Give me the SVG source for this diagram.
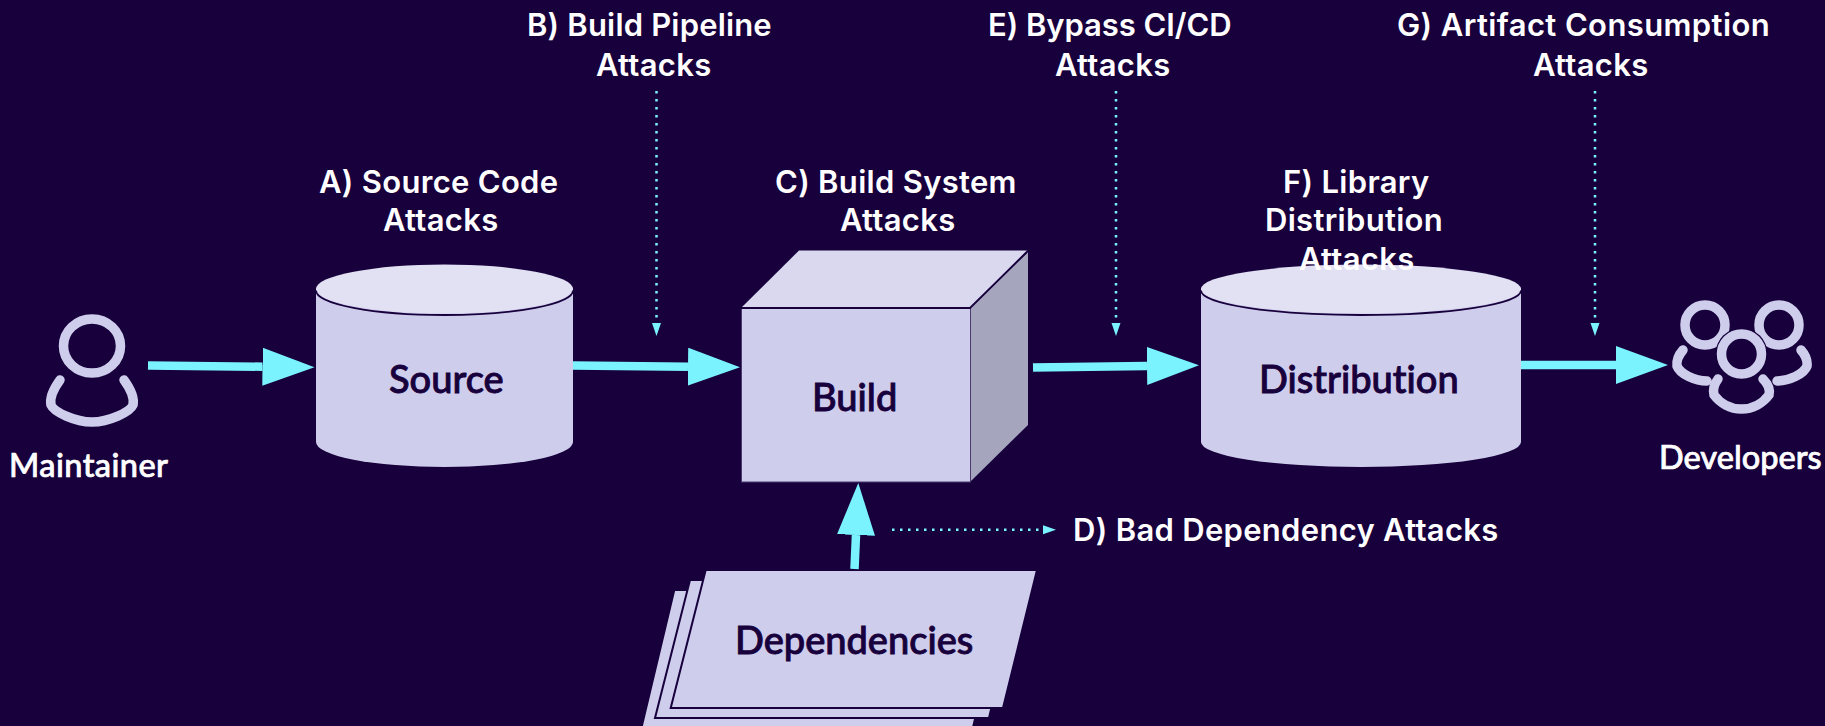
<svg xmlns="http://www.w3.org/2000/svg" width="1825" height="726" viewBox="0 0 1825 726">
<style>
.lbl{font-family:"Inter","Liberation Sans",sans-serif;font-weight:600;font-size:31px;letter-spacing:.3px;fill:#fff}
.nt{font-family:"Lato","Liberation Sans",sans-serif;font-weight:500;font-size:38px;font-variant-ligatures:none;fill:#17003c;stroke:#17003c;stroke-width:.9px}
.ext{font-family:"Lato","Liberation Sans",sans-serif;font-weight:500;font-size:32.500px;font-variant-ligatures:none;fill:#fff;stroke:#fff;stroke-width:.7px}
.flow{stroke:#7af3ff;stroke-width:8.500;fill:none;marker-end:url(#big)}
.dot{stroke:#7af3ff;stroke-width:2.500;stroke-dasharray:2.500 5.500;fill:none;marker-end:url(#small)}
.body{fill:#cfcdec}
.cap{fill:#e2e1f3}
.edge{fill:none;stroke:#17003c;stroke-width:1.800}
.icon{fill:none;stroke:#cfcdec;stroke-width:9.500;stroke-linecap:round}
.sheet{fill:#cfcdec;stroke:#17003c;stroke-width:2}
</style>
<defs>
<marker id="big" markerUnits="userSpaceOnUse" markerWidth="54" markerHeight="40" refX="0" refY="19" orient="auto"><path d="M0 0L52 19L0 38Z" fill="#7af3ff"/></marker>
<marker id="small" markerUnits="userSpaceOnUse" markerWidth="14" markerHeight="10" refX="0" refY="5" orient="auto"><path d="M0 .5L13 5L0 9.500Z" fill="#7af3ff"/></marker>
</defs>
<rect width="1825" height="726" fill="#17003c"/>

<g id="maintainer">
<ellipse class="icon" cx="92" cy="346" rx="28.500" ry="27"/>
<path class="icon" d="M60 380Q49 395 51 405C54 412 75 422 92 422C109 422 130 412 133 405Q135 395 124 380"/>
<text class="ext" x="9" y="477" textLength="159">Maintainer</text>
</g>

<g id="source">
<path class="body" d="M316 288V442A128.500 25 0 0 0 573 442V288Z"/>
<ellipse class="cap" cx="444.500" cy="289" rx="128.500" ry="24.500"/>
<path class="edge" d="M316 290.500A128.500 24.500 0 0 0 573 290.500"/>
<text class="nt" x="389" y="393">Source</text>
<text class="lbl" x="319" y="193">A) Source Code</text>
<text class="lbl" x="383" y="231">Attacks</text>
</g>

<g id="build">
<path fill="#d9d8ef" d="M741 308L799 250.500H1027L970 308Z"/>
<path fill="#a5a5bd" d="M970 308L1028 252V425L970 482Z"/>
<rect class="body" x="741.500" y="308" width="229" height="174" stroke="#4a3a70" stroke-width="1"/>
<path class="edge" d="M741 308H970L1027 252"/>
<text class="nt" x="812" y="411">Build</text>
<text class="lbl" x="775" y="193">C) Build System</text>
<text class="lbl" x="840" y="231">Attacks</text>
</g>

<g id="distribution">
<path class="body" d="M1201 288V442A160 25 0 0 0 1521 442V288Z"/>
<ellipse class="cap" cx="1361" cy="289" rx="160" ry="24.500"/>
<path class="edge" d="M1201 290.500A160 24.500 0 0 0 1521 290.500"/>
<text class="nt" x="1259" y="393">Distribution</text>
<text class="lbl" x="1283" y="193">F) Library</text>
<text class="lbl" x="1265" y="231">Distribution</text>
<text class="lbl" x="1299" y="270">Attacks</text>
</g>

<g id="developers">
<circle class="icon" cx="1705" cy="325" r="20"/>
<circle class="icon" cx="1779" cy="325" r="20"/>
<circle cx="1741.500" cy="354" r="26" fill="#17003c"/>
<circle class="icon" cx="1741.500" cy="354" r="20"/>
<path class="icon" d="M1683 350Q1676 358 1677 366C1680 374 1695 381 1707 381"/>
<path class="icon" d="M1801 350Q1808 358 1807 366C1804 374 1789 381 1777 381"/>
<path class="icon" d="M1718 379Q1712 387 1714 395C1720 403 1730 409 1741.500 409C1753 409 1763 403 1769 395Q1771 387 1763 379"/>
<text class="ext" x="1659" y="469">Developers</text>
</g>

<g id="dependencies">
<path class="sheet" d="M674.300 590H1005.500L970.500 738H639Z"/>
<path class="sheet" d="M690 580H1021.500L989 718H655Z"/>
<path class="sheet" d="M705.700 570H1037L1003 708H670.700Z"/>
<text class="nt" x="735" y="654">Dependencies</text>
</g>

<g id="labels">
<text class="lbl" x="527" y="36" textLength="245">B) Build Pipeline</text>
<text class="lbl" x="596" y="76">Attacks</text>
<text class="lbl" x="988" y="36" textLength="244">E) Bypass CI/CD</text>
<text class="lbl" x="1055" y="76">Attacks</text>
<text class="lbl" x="1397" y="36" textLength="373">G) Artifact Consumption</text>
<text class="lbl" x="1533" y="76">Attacks</text>
<text class="lbl" x="1073" y="541">D) Bad Dependency Attacks</text>
</g>

<g id="connectors">
<path class="flow" d="M148 365.400L262.500 366.700"/>
<path class="flow" d="M573 365.400L688 366.700"/>
<path class="flow" d="M1033 367.500L1147 366"/>
<path class="flow" d="M1521 365L1616 365"/>
<path class="flow" d="M854.500 569L856 535"/>
<path class="dot" d="M656.500 91V323"/>
<path class="dot" d="M1116 91V323"/>
<path class="dot" d="M1595 91V323"/>
<path class="dot" d="M892 529.700H1043"/>
</g>
</svg>
